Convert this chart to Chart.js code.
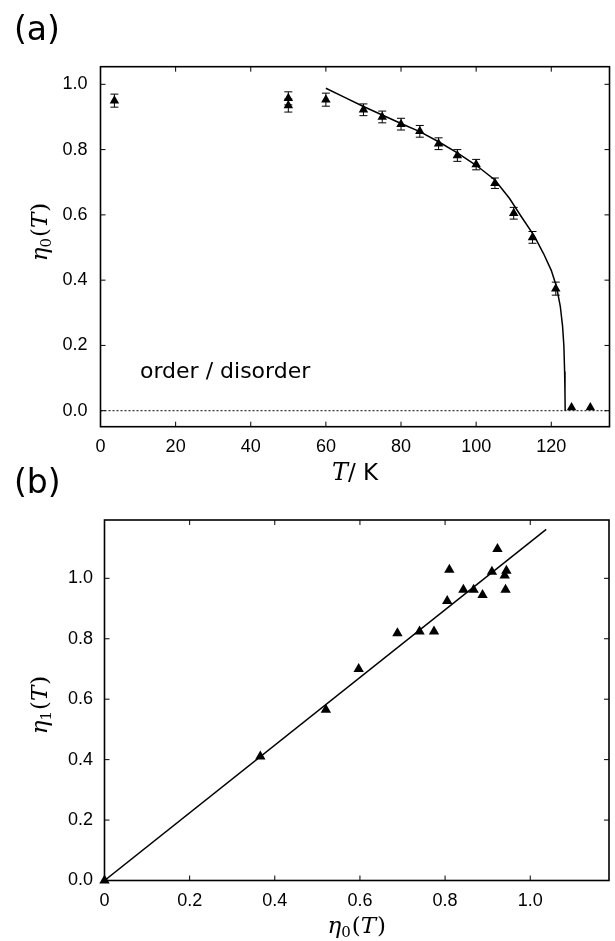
<!DOCTYPE html>
<html><head><meta charset="utf-8">
<script src="https://cdn.jsdelivr.net/npm/chart.js@4.4.1/dist/chart.umd.min.js"></script>
<style>
html,body{margin:0;padding:0;background:#fff;}
#wrap{position:relative;width:615px;height:941px;overflow:hidden;background:#fff;}
canvas{position:absolute;left:0;}
.lab{position:absolute;font-family:"DejaVu Sans";font-size:33px;line-height:1;color:#000;}
</style></head><body>
<div id="wrap">
<canvas id="ca" width="615" height="490" style="top:0"></canvas>
<canvas id="cb" width="615" height="451" style="top:490px"></canvas>
<div class="lab" style="left:14px;top:12px">(a)</div>
<div class="lab" style="left:14px;top:465px">(b)</div>
</div>
<script>
// ---------- Panel (a): order parameter vs temperature ----------
const tempK   = [3.7, 50, 50, 60, 70, 75, 80, 85, 90, 95, 100, 105, 110, 115, 121.2, 125.4, 130.4];
const eta0    = [0.950, 0.957, 0.935, 0.953, 0.922, 0.900, 0.878, 0.856, 0.818, 0.782, 0.754, 0.697, 0.605, 0.531, 0.374, 0.010, 0.010];
const eta0Err = [0.020, 0.020, 0.020, 0.020, 0.018, 0.018, 0.018, 0.018, 0.018, 0.018, 0.016, 0.016, 0.018, 0.018, 0.020, 0, 0];
const fitT    = [60, 65, 70, 75, 80, 85, 90, 95, 100, 105, 108.9, 112, 115.5, 118, 120, 121.4, 122.4, 123.0, 123.35, 123.55, 123.65, 123.7];
const fitEta  = [0.988, 0.960, 0.932, 0.906, 0.880, 0.855, 0.824, 0.790, 0.752, 0.707, 0.650, 0.595, 0.535, 0.480, 0.430, 0.380, 0.320, 0.260, 0.200, 0.120, 0.050, 0.000];
const zeroT   = [0, 135.5];
const zeroEta = [0, 0];
const xTicksA = [0, 20, 40, 60, 80, 100, 120];
const yTicksA = [0, 0.2, 0.4, 0.6, 0.8, 1.0];

// ---------- Panel (b): eta1 vs eta0 ----------
const eta0B = [0, 0.366, 0.520, 0.597, 0.688, 0.740, 0.774, 0.805, 0.843, 0.867, 0.888, 0.810, 0.910, 0.944, 0.940, 0.942, 0.923];
const eta1B = [0, 0.410, 0.565, 0.700, 0.818, 0.824, 0.824, 0.925, 0.962, 0.962, 0.945, 1.028, 1.022, 1.025, 1.009, 0.962, 1.097];
const lineX = [0, 1.0375];
const lineY = [0, 1.162];
const xTicksB = [0, 0.2, 0.4, 0.6, 0.8, 1.0];
const xTickLabelsB = ['0', '0.2', '0.4', '0.6', '0.8', '1.0'];
const yTicksB = [0, 0.2, 0.4, 0.6, 0.8, 1.0];

const TICKFONT = {family: '"Liberation Sans", Arial, sans-serif', size: 18};

function drawRich(ctx, segs, cx, cy, rot) {
  ctx.save();
  let w = 0;
  segs.forEach(s => { ctx.font = s.f; s.w = ctx.measureText(s.t).width; w += s.w + (s.dx || 0); });
  ctx.translate(cx, cy);
  if (rot) ctx.rotate(-Math.PI / 2);
  ctx.textBaseline = 'alphabetic';
  ctx.textAlign = 'left';
  ctx.fillStyle = '#000';
  let x = -w / 2;
  segs.forEach(s => { ctx.font = s.f; ctx.fillText(s.t, x + (s.dx || 0), s.dy || 0); x += s.w + (s.dx || 0); });
  ctx.restore();
}

const decoPlugin = {
  id: 'deco',
  beforeDatasetsDraw(chart, args, o) {
    if (!o.err) return;
    const ctx = chart.ctx, xs = chart.scales.x, ys = chart.scales.y;
    ctx.save();
    ctx.strokeStyle = '#000'; ctx.lineWidth = 1;
    o.err.x.forEach((xv, i) => {
      const e = o.err.e[i];
      if (!e) return;
      const px = xs.getPixelForValue(xv);
      const y1 = ys.getPixelForValue(o.err.y[i] - e), y2 = ys.getPixelForValue(o.err.y[i] + e);
      ctx.beginPath();
      ctx.moveTo(px, y1); ctx.lineTo(px, y2);
      ctx.moveTo(px - 4, y1); ctx.lineTo(px + 4, y1);
      ctx.moveTo(px - 4, y2); ctx.lineTo(px + 4, y2);
      ctx.stroke();
    });
    ctx.restore();
  },
  afterDraw(chart, args, o) {
    const ctx = chart.ctx, a = chart.chartArea, xs = chart.scales.x, ys = chart.scales.y;
    ctx.save();
    ctx.strokeStyle = '#000';
    ctx.lineWidth = 1.6;
    ctx.strokeRect(a.left, a.top, a.right - a.left, a.bottom - a.top);
    ctx.lineWidth = 1;
    ctx.beginPath();
    xs.ticks.forEach(t => {
      const p = xs.getPixelForValue(t.value);
      ctx.moveTo(p, a.bottom); ctx.lineTo(p, a.bottom - 5);
      ctx.moveTo(p, a.top); ctx.lineTo(p, a.top + 5);
    });
    ys.ticks.forEach(t => {
      const p = ys.getPixelForValue(t.value);
      ctx.moveTo(a.left, p); ctx.lineTo(a.left + 5, p);
      ctx.moveTo(a.right, p); ctx.lineTo(a.right - 5, p);
    });
    ctx.stroke();
    (o.texts || []).forEach(t => {
      ctx.font = t.f; ctx.fillStyle = '#000'; ctx.textAlign = 'left'; ctx.textBaseline = 'alphabetic';
      ctx.fillText(t.t, t.x, t.y);
    });
    ctx.restore();
    if (o.xTitle) drawRich(ctx, o.xTitle.segs, (a.left + a.right) / 2 + (o.xTitle.dx || 0), o.xTitle.y, false);
    if (o.yTitle) drawRich(ctx, o.yTitle.segs, o.yTitle.x, o.yTitle.cy, true);
  }
};

const SERIF = '"DejaVu Serif", serif';
const SANS = '"DejaVu Sans", sans-serif';

function etaTitle(sub) {
  return [
    {t: 'η', f: 'italic 23px ' + SERIF},
    {t: sub, f: '15px ' + SERIF, dy: 4},
    {t: '(', f: '23px ' + SERIF, dx: 1},
    {t: 'T', f: 'italic 23px ' + SERIF},
    {t: ')', f: '23px ' + SERIF, dx: 1}
  ];
}

function setTicks(arr) { return scale => { scale.ticks = arr.map(v => ({value: v})); }; }

// ---------- Chart (a) ----------
new Chart(document.getElementById('ca'), {
  type: 'scatter',
  data: {
    datasets: [
      {
        data: tempK.map((t, i) => ({x: t, y: eta0[i]})),
        pointStyle: 'triangle', pointRadius: 5.5, pointHoverRadius: 5.5,
        backgroundColor: '#000', borderColor: '#000', borderWidth: 0, showLine: false, clip: false
      },
      {
        data: fitT.map((t, i) => ({x: t, y: fitEta[i]})),
        showLine: true, pointRadius: 0, borderColor: '#000', borderWidth: 1.5, fill: false, tension: 0
      },
      {
        data: zeroT.map((t, i) => ({x: t, y: zeroEta[i]})),
        showLine: true, pointRadius: 0, borderColor: '#000', borderWidth: 1, borderDash: [2, 2], fill: false
      }
    ]
  },
  options: {
    responsive: false, animation: false, devicePixelRatio: 1,
    layout: {padding: {left: 0, top: 66.7, right: 3.5, bottom: 0}},
    plugins: {
      legend: {display: false}, tooltip: {enabled: false},
      deco: {
        err: {x: tempK, y: eta0, e: eta0Err},
        texts: [{t: 'order / disorder', x: 140, y: 378, f: '22px ' + SANS}],
        xTitle: {segs: [
          {t: 'T', f: 'italic 24px ' + SERIF},
          {t: '/ K', f: '23px ' + SANS}
        ], y: 480},
        yTitle: {segs: etaTitle('0'), x: 47, cy: 232}
      }
    },
    scales: {
      x: {
        type: 'linear', min: 0, max: 135.5,
        afterBuildTicks: setTicks(xTicksA),
        afterFit: s => { s.height = 63.3; },
        grid: {display: false, drawTicks: false}, border: {display: false},
        ticks: {font: TICKFONT, color: '#000', padding: 10, autoSkip: false, maxRotation: 0, minRotation: 0}
      },
      y: {
        type: 'linear', min: -0.049, max: 1.054,
        afterBuildTicks: setTicks(yTicksA),
        afterFit: s => { s.width = 100.5; },
        grid: {display: false, drawTicks: false}, border: {display: false},
        ticks: {font: TICKFONT, color: '#000', padding: 13, autoSkip: false, callback: v => Number(v).toFixed(1)}
      }
    }
  },
  plugins: [decoPlugin]
});

// ---------- Chart (b) ----------
new Chart(document.getElementById('cb'), {
  type: 'scatter',
  data: {
    datasets: [
      {
        data: eta0B.map((v, i) => ({x: v, y: eta1B[i]})),
        pointStyle: 'triangle', pointRadius: 6, pointHoverRadius: 6,
        backgroundColor: '#000', borderColor: '#000', borderWidth: 0, showLine: false, clip: false
      },
      {
        data: lineX.map((v, i) => ({x: v, y: lineY[i]})),
        showLine: true, pointRadius: 0, borderColor: '#000', borderWidth: 1.5, fill: false
      }
    ]
  },
  options: {
    responsive: false, animation: false, devicePixelRatio: 1,
    layout: {padding: {left: 0, top: 30, right: 1.7, bottom: 0}},
    plugins: {
      legend: {display: false}, tooltip: {enabled: false},
      deco: {
        xTitle: {segs: etaTitle('0'), y: 443},
        yTitle: {segs: etaTitle('1'), x: 47, cy: 215}
      }
    },
    scales: {
      x: {
        type: 'linear', min: 0, max: 1.185,
        afterBuildTicks: setTicks(xTicksB),
        afterFit: s => { s.height = 60.5; },
        grid: {display: false, drawTicks: false}, border: {display: false},
        ticks: {font: TICKFONT, color: '#000', padding: 10, autoSkip: false, maxRotation: 0, minRotation: 0,
          callback: v => xTickLabelsB[xTicksB.findIndex(t => Math.abs(t - v) < 1e-9)]}
      },
      y: {
        type: 'linear', min: 0, max: 1.193,
        afterBuildTicks: setTicks(yTicksB),
        afterFit: s => { s.width = 104.5; },
        grid: {display: false, drawTicks: false}, border: {display: false},
        ticks: {font: TICKFONT, color: '#000', padding: 11.5, autoSkip: false, callback: v => Number(v).toFixed(1)}
      }
    }
  },
  plugins: [decoPlugin]
});
</script>
</body></html>
